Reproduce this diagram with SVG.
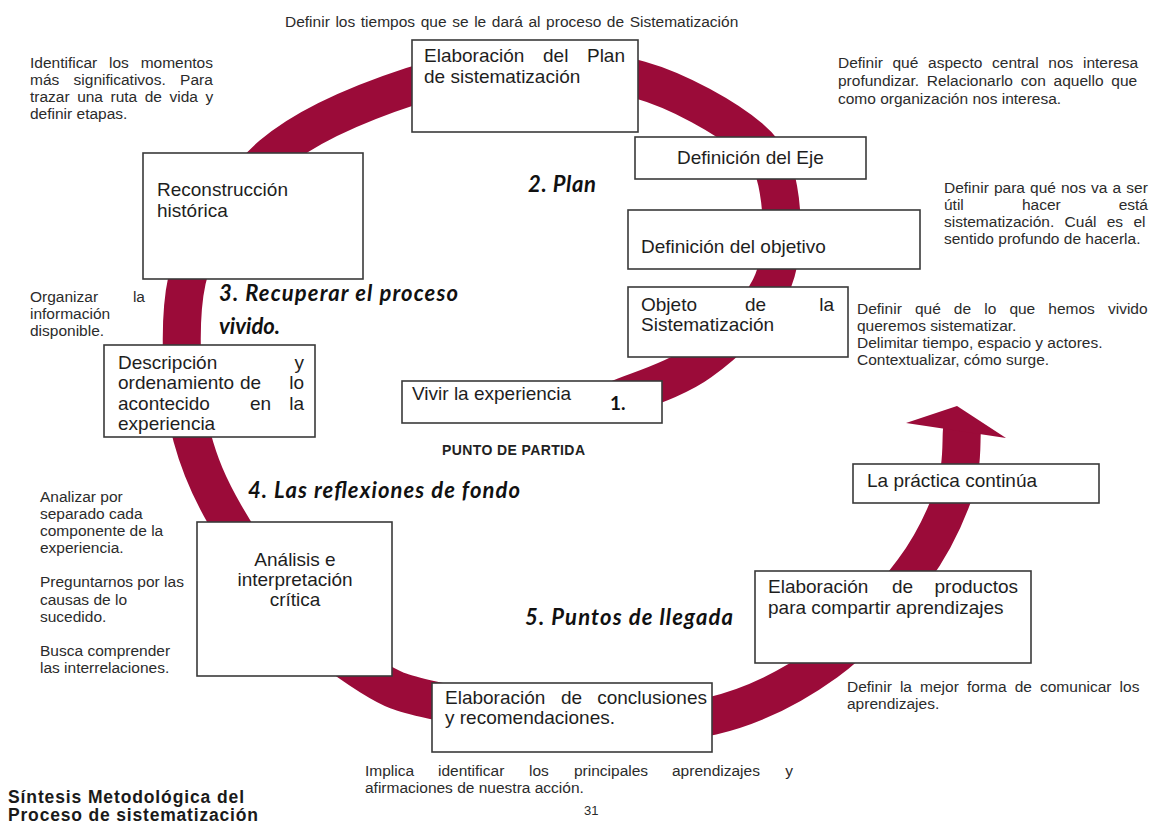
<svg xmlns="http://www.w3.org/2000/svg" width="1151" height="825" viewBox="0 0 1151 825">
<style>
.box{fill:#fff;stroke:#3a3a3a;stroke-width:1.6}
.t{font-family:"Liberation Sans",Arial,sans-serif;font-size:19px;fill:#1e1e1e}
.a{font-family:"Liberation Sans",Arial,sans-serif;font-size:15.5px;fill:#2b2b2b}
.ph{font-family:Lato,"Open Sans",sans-serif;font-weight:bold;font-style:italic;font-size:22px;fill:#111}
.band{fill:none;stroke:#9b0b39;stroke-width:38}
.head{fill:#9b0b39}
.ttl{font-family:"Liberation Sans",Arial,sans-serif;font-weight:bold;font-size:17.5px;fill:#1a1a1a}
</style>
<rect width="1151" height="825" fill="#fff"/>

<g id="connectors">
<path class="band" d="M620,398 C633.3,392 675,380.3 700,362 C725,343.7 756.7,315 770,288 C783.3,261 783.3,225 780,200 C776.7,175 773.3,158 750,138 C726.7,118 678.3,90.7 640,80 C601.7,69.3 558,73 520,74 C482,75 453.3,72.5 412,86 C370.7,99.5 309.5,122.7 272,155 C234.5,187.3 194,248 187,280 C181.5,305 181.2,328.8 182,355 C182.8,381.2 184.8,410.3 192,437 C199.2,463.7 207.8,485.3 225,515 C242.2,544.7 270.8,588.2 295,615 C319.2,641.8 347.2,661.8 370,676 C392.8,690.2 398.7,692.3 432,700 C465.3,707.7 523.3,719.3 570,722 C616.7,724.7 669.3,726 712,716 C754.7,706 792.5,686.2 826,662 C859.5,637.8 891.5,599.7 913,571 C934.5,542.3 946.8,513.5 955,490 C963.2,466.5 960.8,440 962,430"/>
<polygon class="head" points="906,423 957,406 1006,438"/>
</g>

<g id="top-note"><text class="a" x="285" y="27" word-spacing="1.3">Definir los tiempos que se le dará al proceso de Sistematización</text></g>

<g id="plan">
<rect class="box" x="412" y="40" width="226" height="92"/>
<text class="t" y="62"><tspan x="424">Elaboración</tspan><tspan x="543">del</tspan><tspan x="625" text-anchor="end">Plan</tspan></text>
<text class="t" x="424" y="83">de sistematización</text>
</g>

<g id="reconstruccion">
<rect class="box" x="143" y="153" width="220" height="126"/>
<text class="t" x="157" y="196">Reconstrucción</text>
<text class="t" x="157" y="217">histórica</text>
</g>

<g id="eje">
<rect class="box" x="635" y="137" width="231" height="42"/>
<text class="t" x="677" y="164">Definición del Eje</text>
</g>

<g id="objetivo">
<rect class="box" x="628" y="210" width="292" height="59"/>
<text class="t" x="641" y="253">Definición del objetivo</text>
</g>

<g id="objeto">
<rect class="box" x="628" y="287" width="220" height="70"/>
<text class="t" y="311"><tspan x="641">Objeto</tspan><tspan x="745">de</tspan><tspan x="834" text-anchor="end">la</tspan></text>
<text class="t" x="641" y="331">Sistematización</text>
</g>

<g id="vivir">
<rect class="box" x="402" y="381" width="260" height="42"/>
<text class="t" x="412" y="400">Vivir la experiencia</text>
<text class="ph" x="610" y="410" style="font-style:normal;font-size:19px">1.</text>
<text x="442" y="455" textLength="143" style="font-family:'Liberation Sans',Arial,sans-serif;font-weight:bold;font-size:14px;fill:#222">PUNTO DE PARTIDA</text>
</g>

<g id="descripcion">
<rect class="box" x="104" y="345" width="211" height="92"/>
<text class="t" y="369"><tspan x="118">Descripción</tspan><tspan x="304" text-anchor="end">y</tspan></text>
<text class="t" y="389"><tspan x="118">ordenamiento</tspan><tspan x="240">de</tspan><tspan x="304" text-anchor="end">lo</tspan></text>
<text class="t" y="410"><tspan x="118">acontecido</tspan><tspan x="250">en</tspan><tspan x="304" text-anchor="end">la</tspan></text>
<text class="t" x="118" y="430">experiencia</text>
</g>

<g id="analisis">
<rect class="box" x="197" y="522" width="195" height="154"/>
<text class="t" x="295" y="566" text-anchor="middle">Análisis e</text>
<text class="t" x="295" y="586" text-anchor="middle">interpretación</text>
<text class="t" x="295" y="606" text-anchor="middle">crítica</text>
</g>

<g id="conclusiones">
<rect class="box" x="432" y="683" width="280" height="69"/>
<text class="t" y="704"><tspan x="445">Elaboración</tspan><tspan x="561">de</tspan><tspan x="707" text-anchor="end">conclusiones</tspan></text>
<text class="t" x="445" y="724">y recomendaciones.</text>
</g>

<g id="productos">
<rect class="box" x="755" y="571" width="276" height="92"/>
<text class="t" y="593"><tspan x="768">Elaboración</tspan><tspan x="892">de</tspan><tspan x="1018" text-anchor="end">productos</tspan></text>
<text class="t" x="768" y="614">para compartir aprendizajes</text>
</g>

<g id="practica">
<rect class="box" x="853" y="464" width="246" height="39"/>
<text class="t" x="867" y="487">La práctica continúa</text>
</g>

<g id="phases">
<text class="ph" x="528" y="192" textLength="68">2. Plan</text>
<text class="ph" x="219" y="301" textLength="239">3. Recuperar el proceso</text>
<text class="ph" x="219" y="334">vivido.</text>
<text class="ph" x="248" y="498" textLength="272">4. Las reflexiones de fondo</text>
<text class="ph" x="525" y="625" textLength="208">5. Puntos de llegada</text>
</g>

<g id="notes">
<text class="a" x="30" y="68" word-spacing="7.5">Identificar los momentos</text>
<text class="a" x="30" y="85" word-spacing="10">más significativos. Para</text>
<text class="a" x="30" y="102" word-spacing="3.2">trazar una ruta de vida y</text>
<text class="a" x="30" y="119">definir etapas.</text>

<text class="a" x="838" y="68" word-spacing="5.4">Definir qué aspecto central nos interesa</text>
<text class="a" x="838" y="86" word-spacing="3.5">profundizar. Relacionarlo con aquello que</text>
<text class="a" x="838" y="104">como organización nos interesa.</text>

<text class="a" x="944" y="193" word-spacing="0.8">Definir para qué nos va a ser</text>
<text class="a" y="210"><tspan x="944">útil</tspan><tspan x="1022">hacer</tspan><tspan x="1148" text-anchor="end">está</tspan></text>
<text class="a" x="944" y="227" word-spacing="6">sistematización. Cuál es el</text>
<text class="a" x="944" y="244">sentido profundo de hacerla.</text>

<text class="a" x="857" y="314" word-spacing="8.8">Definir qué de lo que hemos vivido</text>
<text class="a" x="857" y="331">queremos sistematizar.</text>
<text class="a" x="857" y="348">Delimitar tiempo, espacio y actores.</text>
<text class="a" x="857" y="365">Contextualizar, cómo surge.</text>

<text class="a" y="302"><tspan x="30">Organizar</tspan><tspan x="145" text-anchor="end">la</tspan></text>
<text class="a" x="30" y="319">información</text>
<text class="a" x="30" y="336">disponible.</text>

<text class="a" x="40" y="502">Analizar por</text>
<text class="a" x="40" y="519">separado cada</text>
<text class="a" x="40" y="536">componente de la</text>
<text class="a" x="40" y="553">experiencia.</text>
<text class="a" x="40" y="587">Preguntarnos por las</text>
<text class="a" x="40" y="605">causas de lo</text>
<text class="a" x="40" y="622">sucedido.</text>
<text class="a" x="40" y="656">Busca comprender</text>
<text class="a" x="40" y="673">las interrelaciones.</text>

<text class="a" x="847" y="692" word-spacing="3.8">Definir la mejor forma de comunicar los</text>
<text class="a" x="847" y="709">aprendizajes.</text>

<text class="a" y="776"><tspan x="365">Implica</tspan><tspan x="438">identificar</tspan><tspan x="529">los</tspan><tspan x="574">principales</tspan><tspan x="672">aprendizajes</tspan><tspan x="793" text-anchor="end">y</tspan></text>
<text class="a" x="365" y="793">afirmaciones de nuestra acción.</text>
</g>

<g id="footer">
<text class="ttl" x="8" y="803" textLength="236">Síntesis Metodológica del</text>
<text class="ttl" x="8" y="821" textLength="250">Proceso de sistematización</text>
<text class="a" x="584" y="815" style="font-size:13px">31</text>
</g>
</svg>
